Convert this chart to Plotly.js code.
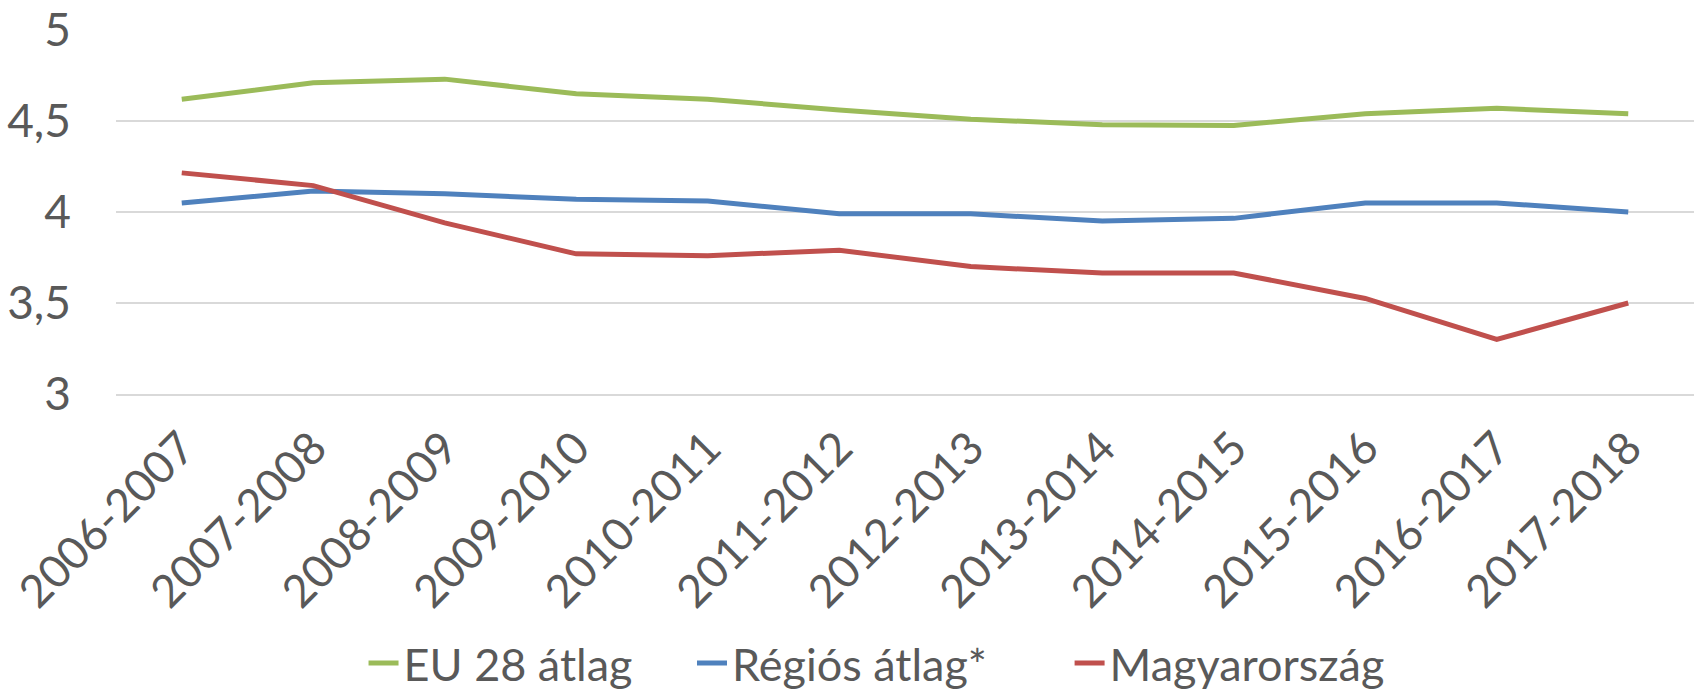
<!DOCTYPE html>
<html>
<head>
<meta charset="utf-8">
<script src="https://cdn.plot.ly/plotly-3.0.1.min.js"></script>
<style>html,body{margin:0;padding:0;background:#fff;}#chart{width:1694px;height:691px;}</style>
</head>
<body>
<div id="chart"></div>
<script>
const categories = ["2006-2007","2007-2008","2008-2009","2009-2010","2010-2011","2011-2012","2012-2013","2013-2014","2014-2015","2015-2016","2016-2017","2017-2018"];
const eu28 = [4.62, 4.71, 4.73, 4.65, 4.62, 4.56, 4.51, 4.48, 4.475, 4.54, 4.57, 4.54];
const regios = [4.05, 4.115, 4.10, 4.07, 4.06, 3.99, 3.99, 3.95, 3.965, 4.05, 4.05, 4.00];
const magyar = [4.215, 4.145, 3.94, 3.77, 3.76, 3.79, 3.70, 3.665, 3.665, 3.525, 3.30, 3.50];
const seriesNames = ["EU 28 átlag", "Régiós átlag*", "Magyarország"];
const yTicks = [3, 3.5, 4, 4.5, 5];
const yTickText = ["3", "3,5", "4", "4,5", "5"];

const colors = ["#9BBB59", "#4F81BD", "#C0504D"];
const font = "Lato, 'Noto Sans', sans-serif";
const textColor = "#595959";
const legendIds = ["legend", "legend2", "legend3"];
const legendX = [0.2146, 0.4085, 0.6314];

const traces = [eu28, regios, magyar].map((vals, i) => ({
  type: "scatter", mode: "lines", x: categories, y: vals, name: seriesNames[i],
  legend: legendIds[i],
  line: {color: colors[i], width: 5}
}));

function legendCfg(x) {
  return {orientation: "h", xref: "container", yref: "container", x: x, xanchor: "left", y: 0.040, yanchor: "middle",
    font: {family: font, size: 45, color: textColor}, bgcolor: "rgba(0,0,0,0)", borderwidth: 0};
}

const layout = {
  width: 1694, height: 691,
  paper_bgcolor: "#ffffff", plot_bgcolor: "#ffffff",
  margin: {l: 116, r: 0, t: 30, b: 297, pad: 0},
  font: {family: font, color: textColor, size: 40},
  showlegend: true,
  legend: legendCfg(legendX[0]),
  legend2: legendCfg(legendX[1]),
  legend3: legendCfg(legendX[2]),
  xaxis: {type: "category", range: [-0.5, 11.5], tickangle: -45, showgrid: false, zeroline: false,
    showline: true, linecolor: "#D9D9D9", linewidth: 1.5, ticks: "", ticklabelstandoff: 8,
    tickfont: {family: font, size: 45, color: textColor}, fixedrange: true},
  yaxis: {range: [3, 5], tickvals: yTicks, ticktext: yTickText, showgrid: true, gridcolor: "#D9D9D9", gridwidth: 1.5,
    zeroline: false, showline: false, ticks: "", ticklabelstandoff: 44,
    tickfont: {family: font, size: 46, color: textColor}, fixedrange: true}
};

Plotly.newPlot("chart", traces, layout, {staticPlot: true, displayModeBar: false});
</script>
</body>
</html>
